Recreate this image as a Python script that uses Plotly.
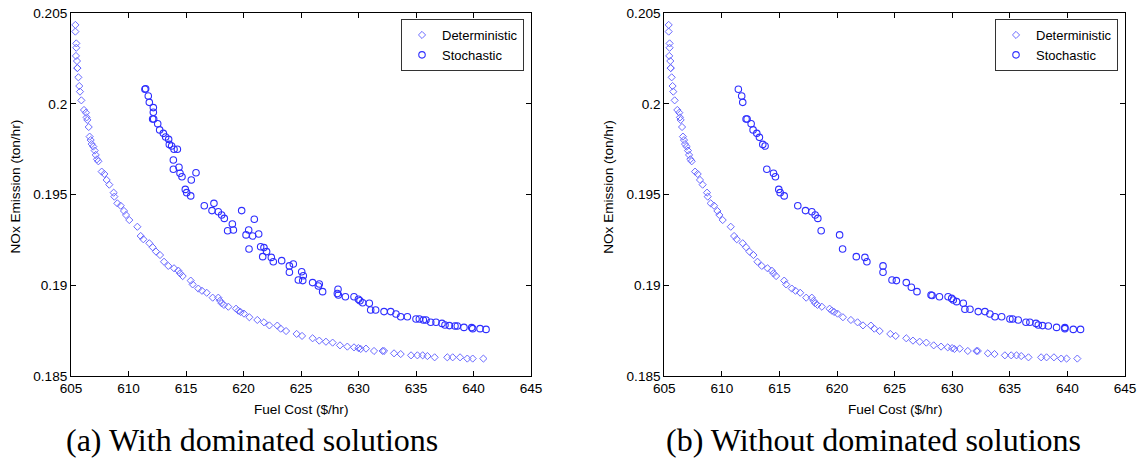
import plotly.graph_objects as go

# ---------------- data ----------------
det_cost = [605.38, 605.38, 605.46, 605.46, 605.43, 605.52, 605.55, 605.56, 605.64, 605.72,
            605.78, 605.90, 606.13, 606.30, 606.36, 606.42, 606.54, 606.62, 606.71, 606.80,
            606.94, 607.06, 607.15, 607.26, 607.38, 607.67, 607.90, 608.10, 608.33, 608.71,
            608.77, 609.03, 609.32, 609.61, 609.78, 610.07, 610.77, 611.06, 611.29, 611.81,
            612.10, 612.39, 612.74, 613.09, 613.46, 613.96, 614.33, 614.48, 614.71, 615.41,
            615.58, 616.07, 616.39, 616.80, 617.32, 617.81, 617.96, 618.10, 618.30, 618.68,
            619.35, 619.55, 619.75, 620.04, 620.51, 621.20, 621.78, 622.25, 622.94, 623.23,
            623.70, 624.62, 625.09, 626.01, 626.59, 627.17, 627.75, 628.39, 629.03, 629.61,
            629.99, 630.19, 630.65, 631.35, 632.10, 632.22, 633.09, 633.67, 634.57, 635.12,
            635.58, 635.99, 636.62, 637.72, 638.19, 638.83, 639.46, 639.93, 640.86]
det_nox = [0.20436, 0.20399, 0.20334, 0.20310, 0.20265, 0.20237, 0.20198, 0.20198, 0.20147, 0.20099,
           0.20068, 0.20020, 0.19967, 0.19952, 0.19926, 0.19912, 0.19873, 0.19820, 0.19801, 0.19779,
           0.19765, 0.19743, 0.19719, 0.19695, 0.19684, 0.19627, 0.19614, 0.19581, 0.19555, 0.19511,
           0.19489, 0.19452, 0.19439, 0.19410, 0.19388, 0.19360, 0.19323, 0.19272, 0.19254, 0.19232,
           0.19210, 0.19186, 0.19167, 0.19130, 0.19107, 0.19094, 0.19081, 0.19066, 0.19051, 0.19026,
           0.19005, 0.18982, 0.18970, 0.18959, 0.18932, 0.18932, 0.18915, 0.18901, 0.18892, 0.18882,
           0.18871, 0.18860, 0.18853, 0.18844, 0.18824, 0.18809, 0.18796, 0.18779, 0.18778, 0.18761,
           0.18748, 0.18732, 0.18721, 0.18708, 0.18695, 0.18689, 0.18684, 0.18669, 0.18662, 0.18658,
           0.18654, 0.18649, 0.18651, 0.18638, 0.18638, 0.18638, 0.18625, 0.18621, 0.18614, 0.18614,
           0.18614, 0.18610, 0.18603, 0.18603, 0.18603, 0.18603, 0.18596, 0.18596, 0.18596]

# stochastic, all solutions (panel a)
sto_all_cost = [611.43, 611.49, 611.72, 611.81, 612.16, 612.16, 612.10, 612.19, 612.54, 612.71,
                613.03, 613.23, 613.49, 613.55, 613.75, 613.96, 614.25, 613.90, 613.90, 614.39,
                614.48, 614.65, 615.46, 615.87, 614.94, 615.06, 615.41, 616.59, 617.43, 617.26,
                617.81, 618.10, 618.33, 619.03, 618.62, 619.12, 619.84, 620.94, 620.22, 620.45,
                620.80, 621.32, 620.48, 621.49, 621.78, 622.01, 621.67, 622.42, 622.59, 623.32,
                623.99, 623.99, 624.33, 625.06, 625.20, 624.77, 625.15, 626.01, 626.51, 626.59,
                626.88, 628.22, 628.25, 628.16, 628.86, 629.61, 629.99, 630.13, 630.36, 630.94,
                631.06, 631.49, 632.22, 632.80, 633.26, 633.67, 634.25, 635.00, 635.29, 635.64,
                635.87, 636.28, 636.74, 637.26, 637.52, 637.90, 638.39, 638.59, 639.17, 639.84,
                639.93, 640.57, 641.09]
sto_all_nox = [0.20081, 0.20084, 0.20044, 0.20009, 0.19980, 0.19954, 0.19917, 0.19917, 0.19891, 0.19857,
               0.19838, 0.19818, 0.19805, 0.19777, 0.19768, 0.19750, 0.19750, 0.19691, 0.19640, 0.19651,
               0.19618, 0.19599, 0.19581, 0.19621, 0.19529, 0.19511, 0.19493, 0.19439, 0.19452, 0.19412,
               0.19406, 0.19388, 0.19369, 0.19338, 0.19301, 0.19305, 0.19412, 0.19364, 0.19278, 0.19305,
               0.19272, 0.19283, 0.19200, 0.19213, 0.19208, 0.19186, 0.19158, 0.19154, 0.19130, 0.19136,
               0.19107, 0.19072, 0.19118, 0.19075, 0.19053, 0.19029, 0.19026, 0.19015, 0.18996, 0.19007,
               0.18965, 0.18978, 0.18947, 0.18955, 0.18937, 0.18937, 0.18923, 0.18915, 0.18904, 0.18901,
               0.18864, 0.18864, 0.18855, 0.18855, 0.18842, 0.18827, 0.18827, 0.18814, 0.18814, 0.18809,
               0.18809, 0.18796, 0.18796, 0.18790, 0.18781, 0.18778, 0.18776, 0.18776, 0.18768, 0.18767,
               0.18761, 0.18761, 0.18757]

# stochastic, non-dominated only (panel b)
sto_nd_cost = [611.43, 611.72, 611.81, 612.10, 612.19, 612.54, 612.71, 613.03, 613.26, 613.55,
               613.75, 613.90, 614.48, 614.65, 614.94, 615.06, 615.41, 616.59, 617.26, 617.81,
               618.10, 618.33, 618.62, 620.22, 620.48, 621.67, 622.42, 622.59, 623.99, 623.99,
               624.77, 625.15, 626.01, 626.45, 626.94, 628.16, 628.25, 628.89, 629.64, 629.95,
               630.09, 630.38, 630.96, 631.10, 631.54, 632.26, 632.84, 633.27, 633.71, 634.29,
               635.01, 635.24, 635.73, 636.40, 636.74, 637.27, 637.47, 637.84, 638.34, 639.06,
               639.78, 639.78, 640.51, 641.14]
sto_nd_nox = [0.20081, 0.20044, 0.20009, 0.19917, 0.19917, 0.19891, 0.19857, 0.19838, 0.19816, 0.19777,
              0.19768, 0.19640, 0.19618, 0.19599, 0.19529, 0.19511, 0.19493, 0.19439, 0.19412, 0.19406,
              0.19388, 0.19369, 0.19301, 0.19278, 0.19200, 0.19158, 0.19154, 0.19130, 0.19107, 0.19072,
              0.19029, 0.19026, 0.19015, 0.18989, 0.18965, 0.18947, 0.18944, 0.18937, 0.18937, 0.18928,
              0.18919, 0.18910, 0.18901, 0.18868, 0.18868, 0.18855, 0.18855, 0.18842, 0.18827, 0.18827,
              0.18814, 0.18814, 0.18809, 0.18796, 0.18796, 0.18790, 0.18781, 0.18778, 0.18776, 0.18768,
              0.18767, 0.18761, 0.18757, 0.18757]

x_ticks = [605, 610, 615, 620, 625, 630, 635, 640, 645]
y_ticks = [0.185, 0.19, 0.195, 0.2, 0.205]
y_tick_text = ["0.185", "0.19", "0.195", "0.2", "0.205"]
series_names = ["Deterministic", "Stochastic"]
captions = ["(a) With dominated solutions", "(b) Without dominated solutions"]
x_title = "Fuel Cost ($/hr)"
y_title = "NOx Emission (ton/hr)"

# ---------------- figure ----------------
W, H = 1138, 462
FONT = "Liberation Sans, Arial, sans-serif"
FS = 13.6

left_px = [71, 664.3]
right_px = [531, 1125]
top_px, bot_px = 13.3, 376

fig = go.Figure()

DET_COLOR = "#6a6aff"
STO_COLOR = "#2f2fff"

panels = [(sto_all_cost, sto_all_nox), (sto_nd_cost, sto_nd_nox)]
for i, (sc, sn) in enumerate(panels):
    xa = "x" if i == 0 else "x2"
    ya = "y" if i == 0 else "y2"
    lg = "legend" if i == 0 else "legend2"
    fig.add_trace(go.Scatter(
        x=det_cost, y=det_nox, mode="markers", name=series_names[0],
        xaxis=xa, yaxis=ya, legend=lg,
        marker=dict(symbol="diamond-open", size=5.5, color=DET_COLOR, line=dict(width=1))))
    fig.add_trace(go.Scatter(
        x=sc, y=sn, mode="markers", name=series_names[1],
        xaxis=xa, yaxis=ya, legend=lg,
        marker=dict(symbol="circle-open", size=6.5, color=STO_COLOR, line=dict(width=1.1))))

def xdom(i):
    return [left_px[i] / W, right_px[i] / W]

ydom = [1 - bot_px / H, 1 - top_px / H]

axis_common = dict(
    showgrid=False, zeroline=False, showline=True, linecolor="black", linewidth=1,
    mirror="ticks", ticks="inside", ticklen=5, tickcolor="black", tickwidth=1,
    automargin=False,
    tickfont=dict(family=FONT, size=FS, color="black"),
)

for i in range(2):
    sx = "" if i == 0 else "2"
    fig.update_layout(**{
        f"xaxis{sx}": dict(axis_common, domain=xdom(i), range=[605, 645],
                           tickvals=x_ticks, ticktext=[str(v) for v in x_ticks],
                           anchor=f"y{sx}"),
        f"yaxis{sx}": dict(axis_common, domain=ydom, range=[0.185, 0.205],
                           tickvals=y_ticks, ticktext=y_tick_text,
                           anchor=f"x{sx}"),
    })

annotations = []
for i in range(2):
    cx = (left_px[i] + right_px[i]) / 2
    annotations.append(dict(text=x_title, x=cx / W, y=1 - 409 / H, xref="paper", yref="paper",
                            showarrow=False, xanchor="center", yanchor="middle",
                            font=dict(family=FONT, size=FS, color="black")))
    annotations.append(dict(text=y_title, x=(left_px[i] - 56) / W, y=1 - 186.5 / H,
                            xref="paper", yref="paper", textangle=-90,
                            showarrow=False, xanchor="center", yanchor="middle",
                            font=dict(family=FONT, size=FS, color="black")))
    cap_cx = [252, 873.5][i]
    annotations.append(dict(text=captions[i], x=cap_cx / W, y=1 - 440 / H,
                            xref="paper", yref="paper", showarrow=False,
                            xanchor="center", yanchor="middle",
                            font=dict(family="Liberation Serif, Times New Roman, serif",
                                      size=32, color="black")))

legend_common = dict(
    xanchor="right", yanchor="top", bgcolor="white",
    bordercolor="#333333", borderwidth=1,
    font=dict(family=FONT, size=13, color="black"),
    itemwidth=30, tracegroupgap=0,
)

fig.update_layout(
    template="none",
    width=W, height=H,
    margin=dict(l=0, r=0, t=0, b=0, autoexpand=False),
    paper_bgcolor="white", plot_bgcolor="white",
    showlegend=True,
    legend=dict(legend_common, x=524 / W, y=1 - 19 / H),
    legend2=dict(legend_common, x=1118 / W, y=1 - 19 / H),
    annotations=annotations,
)

fig.write_html("out.html")
